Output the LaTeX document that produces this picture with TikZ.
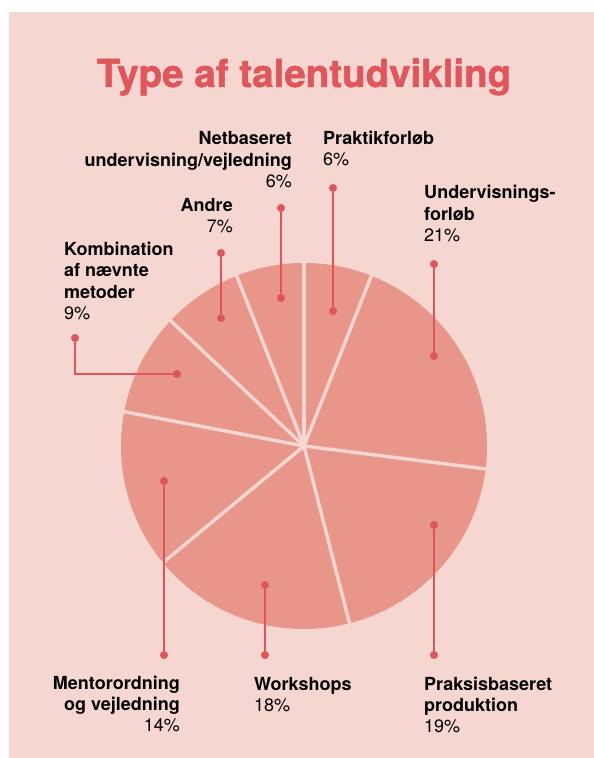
\documentclass[tikz,border=0pt]{standalone}
\usepackage{fontspec}
\setmainfont{TeX Gyre Heros}
\newfontfamily\titlefont{TeX Gyre Heros}[BoldFeatures={FakeBold=1.3}]
\definecolor{bgpink}{HTML}{F6D6D0}
\definecolor{piefill}{HTML}{E8958A}
\definecolor{leadred}{HTML}{E0555A}
\definecolor{titlered}{HTML}{E0565A}
\newcommand{\lblfont}{\fontsize{18}{21.5}\selectfont}
\tikzset{
  lead/.style={draw=leadred, line width=2pt},
  dot/.style={circle, fill=leadred, inner sep=0pt, minimum size=8pt},
  lbl/.style={font=\lblfont, inner sep=0pt, text=black},
  sep/.style={draw=bgpink, line width=3.5pt},
}
\begin{document}
\begin{tikzpicture}[x=1pt,y=1pt]
\useasboundingbox (0,0) rectangle (594,758);
\fill[bgpink] (9,0) rectangle (594,746);
\node[font=\fontsize{38.5}{44}\titlefont\bfseries, text=titlered, anchor=base, inner sep=0pt] (title) at (304,671) {Type af talentudvikling};

\coordinate (c) at (304,312);
\fill[piefill] (c) circle (183);
\foreach \a in {90,68.4,-7.2,-75.6,-140.4,169.2,136.8,111.6}
  \draw[sep] (c) -- ++(\a:184);

\node[dot] (praktik1) at (333,570) {};
\node[dot] (praktik2) at (333,447) {};
\draw[lead] (praktik1) -- (praktik2);
\node[dot] (underv1) at (434,494) {};
\node[dot] (underv2) at (434,402) {};
\draw[lead] (underv1) -- (underv2);
\node[dot] (netb1) at (281,550) {};
\node[dot] (netb2) at (281,460) {};
\draw[lead] (netb1) -- (netb2);
\node[dot] (andre1) at (221,505) {};
\node[dot] (andre2) at (221,440) {};
\draw[lead] (andre1) -- (andre2);
\node[dot] (komb1) at (75,420) {};
\node[dot] (komb2) at (177,384) {};
\draw[lead] (komb1) |- (komb2);
\node[dot] (praksis1) at (434,233) {};
\node[dot] (praksis2) at (434,103) {};
\draw[lead] (praksis1) -- (praksis2);
\node[dot] (work1) at (265,173) {};
\node[dot] (work2) at (265,103) {};
\draw[lead] (work1) -- (work2);
\node[dot] (mentor1) at (164,277) {};
\node[dot] (mentor2) at (164,103) {};
\draw[lead] (mentor1) -- (mentor2);

\node[lbl, anchor=base east, align=right] (netbtxt) at (292,570) {\textbf{Netbaseret}\\\textbf{undervisning/vejledning}\\6\%};
\node[lbl, anchor=base west, align=left] (praktiktxt) at (323,592) {\textbf{Praktikforløb}\\6\%};
\node[lbl, anchor=base west, align=left] (undervtxt) at (424,516) {\textbf{Undervisnings-}\\\textbf{forløb}\\21\%};
\node[lbl, anchor=base east, align=right] (andretxt) at (233,525) {\textbf{Andre}\\7\%};
\node[lbl, anchor=base west, align=left] (kombtxt) at (64,438) {\textbf{Kombination}\\\textbf{af nævnte}\\\textbf{metoder}\\9\%};
\node[lbl, anchor=base east, align=right] (mentortxt) at (180,26) {\textbf{Mentorordning}\\\textbf{og vejledning}\\14\%};
\node[lbl, anchor=base west, align=left] (worktxt) at (254,46) {\textbf{Workshops}\\18\%};
\node[lbl, anchor=base west, align=left] (praksistxt) at (424,25) {\textbf{Praksisbaseret}\\\textbf{produktion}\\19\%};
\end{tikzpicture}
\end{document}
